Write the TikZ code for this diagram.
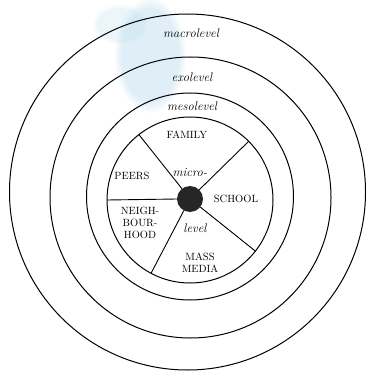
\documentclass[tikz,border=0pt]{standalone}
\usepackage{tikz}
\usetikzlibrary{positioning,calc,fadings}
\definecolor{smudge}{RGB}{178,216,236}
\tikzstyle{ring} = [circle, draw, line width=1pt, inner sep=0pt, outer sep=0pt]
\tikzstyle{hubdot} = [circle, fill=black!85, inner sep=0pt, outer sep=0pt, minimum size=26pt]
\tikzstyle{levelname} = [font=\fontsize{12.5}{14}\selectfont\itshape, inner sep=0pt]
\tikzstyle{sector} = [font=\fontsize{10.5}{11.7}\selectfont, align=center, inner sep=0pt]
\tikzstyle{spoke} = [draw, line width=0.9pt]
\tikzstyle{stain} = [smudge, path fading=circle with fuzzy edge 20 percent]

\begin{document}
\begin{tikzpicture}[x=1pt, y=-1pt]
\useasboundingbox (0,0) rectangle (369,374);

% faint blue stain of the scan
\fill[stain, opacity=0.4] (150,55) ellipse (36pt and 58pt);
\fill[stain, opacity=0.25] (120,24) ellipse (28pt and 20pt);

% ==========================================
% RINGS (outside in)
% ==========================================
\node[ring, minimum size=356pt] (macro) at (187.5,192) {};
\node[ring, minimum size=281pt] (exo)   at (190.5,197.5) {};
\node[ring, minimum size=207pt] (meso)  at (190,196.5) {};
\node[ring, minimum size=166pt] (micro) at (190,200) {};
\node[hubdot] (hub) at (190,199) {};

% Spokes of the microlevel
\foreach \a in {45,128,180,242,322}
  { \draw[spoke] (hub.\a) -- (micro.\a); }

% ==========================================
% LEVEL NAMES
% ==========================================
\node[levelname] (macro_label) at (191,33)  {macrolevel};
\node[levelname] (exo_label)   at (192,77)  {exolevel};
\node[levelname] (meso_label)  at (192,106) {mesolevel};
\node[levelname] (micro_top)   at (190,172) {micro-};
\node[levelname] (micro_bot)   at (195,228) {level};

% ==========================================
% SECTORS
% ==========================================
\node[sector] (family) at (187,135) {FAMILY};
\node[sector] (peers)  at (132,176) {PEERS};
\node[sector] (school) at (236,199) {SCHOOL};
\node[sector] (neigh)  at (140,223) {NEIGH-\\BOUR-\\HOOD};
\node[sector] (media)  at (200,263) {MASS\\MEDIA};

\end{tikzpicture}
\end{document}
